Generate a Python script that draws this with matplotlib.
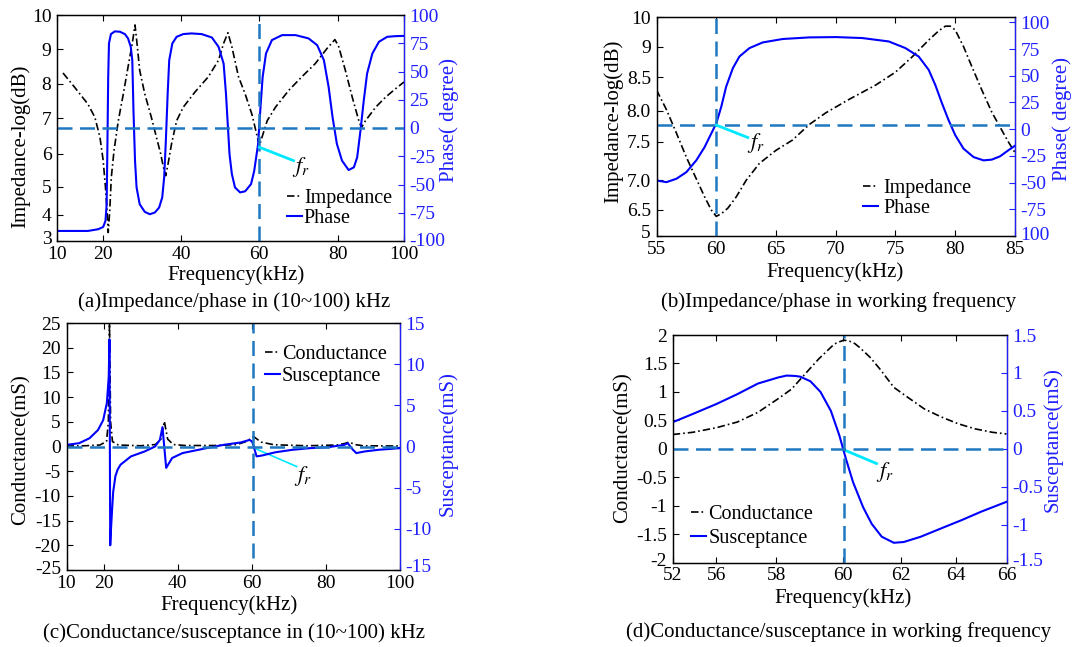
import numpy as np
import matplotlib
matplotlib.use('Agg')
import matplotlib.pyplot as plt
from matplotlib.transforms import ScaledTranslation

plt.rcParams['font.family'] = ['Liberation Serif', 'DejaVu Serif']
plt.rcParams['mathtext.fontset'] = 'stix'
plt.rcParams['axes.unicode_minus'] = False
plt.rcParams['font.size'] = 14

# ---------------- data ----------------
# (a) impedance / phase 10-100 kHz
a_imp_f = [11.3, 13.8, 16.7, 18.2, 19.3, 20.0, 20.6, 21.0, 21.3, 21.7, 22.1, 22.8, 23.9, 25.2, 26.4,
           27.5, 28.2, 28.8, 29.4, 30.7, 32.4, 33.7, 34.8, 35.5, 36.1, 36.7, 37.6, 38.9, 40.6, 43.6,
           47.0, 49.6, 50.9, 52.0, 53.0, 54.7, 56.4, 58.1, 59.4, 60.0, 60.7, 62.0, 64.1, 67.5, 70.8,
           74.2, 77.2, 79.2, 80.2, 82.2, 84.3, 86.3, 87.1, 88.3, 91.4, 94.4, 97.5, 100]
a_imp_db = [8.31, 7.90, 7.41, 7.03, 6.47, 5.80, 4.97, 4.14, 3.32, 4.14, 5.28, 6.09, 6.93, 7.71, 8.48,
            9.17, 9.71, 9.07, 8.39, 7.71, 7.03, 6.47, 6.0, 5.59, 5.33, 5.69, 6.28, 6.93, 7.32, 7.76,
            8.20, 8.68, 9.17, 9.48, 9.07, 8.20, 7.70, 7.12, 6.52, 6.23, 6.47, 6.93, 7.32, 7.81, 8.20,
            8.58, 9.02, 9.28, 9.07, 8.39, 7.61, 6.93, 6.74, 6.93, 7.32, 7.61, 7.86, 8.05]
a_ph_f = [10, 16.7, 18.9, 20.0, 20.6, 20.9, 21.1, 21.3, 21.5, 22.0, 23.0, 24.3, 25.6, 26.4, 27.1,
          27.5, 27.8, 28.2, 28.6, 29.4, 30.7, 32.0, 33.3, 34.4, 35.2, 35.7, 36.1, 36.6, 37.0, 37.8,
          38.9, 40.6, 42.7, 45.3, 47.9, 49.6, 50.9, 51.5, 52.0, 52.4, 53.0, 53.8, 55.1, 56.4, 57.9,
          58.7, 59.7, 60.25, 60.85, 61.7, 63.2, 65.8, 69.2, 72.5, 74.7, 76.4, 77.6, 78.6, 79.7, 81.2,
          83.2, 84.8, 85.8, 86.8, 87.8, 88.8, 90.4, 92.4, 94.9, 97.5, 100]
a_ph_deg = [-91.1, -91.1, -89.6, -87.6, -82.2, -67.4, -14.1, 45.2, 74.8, 83.1, 85.5, 85.2, 83.1, 79.3, 71.9,
            60.0, 15.6, -28.9, -52.6, -67.4, -74.2, -76.3, -74.8, -70.4, -61.5, -43.7, -14.1, 30.4, 60.0, 74.8,
            80.7, 83.1, 83.7, 83.1, 80.1, 71.9, 57.0, 30.4, 0.7, -23.0, -40.7, -52.6, -57.0, -56.0, -49.6,
            -38.0, -14.1, 15.6, 45.2, 65.9, 77.8, 82.2, 82.2, 79.3, 73.3, 60.0, 36.3, 9.6, -14.1, -28.9,
            -37.2, -34.8, -25.9, -2.2, 24.4, 48.1, 65.9, 76.3, 80.7, 81.3, 81.5]

# (b) impedance / phase, working band
b_imp_f = [55, 55.83, 56.67, 57.5, 58.33, 59.03, 59.58, 60.0, 60.42, 60.97, 61.67, 62.5, 63.61, 65.0,
           66.39, 67.78, 69.17, 71.11, 73.33, 75.0, 76.39, 77.78, 78.61, 79.17, 79.58, 80.0, 80.69,
           81.39, 82.22, 83.06, 83.89, 84.44, 85]
b_imp_db = [8.31, 8.02, 7.64, 7.30, 7.02, 6.72, 6.50, 6.13, 6.28, 6.53, 6.72, 7.0, 7.22, 7.39,
            7.53, 7.78, 7.97, 8.17, 8.38, 8.58, 8.83, 9.22, 9.53, 9.69, 9.69, 9.56, 9.0,
            8.67, 8.31, 7.98, 7.69, 7.50, 7.36]
b_ph_f = [55, 55.83, 56.67, 57.5, 58.33, 59.03, 59.58, 60.0, 60.42, 60.83, 61.39, 61.94, 62.78, 63.89,
          65.56, 67.78, 70.0, 72.22, 74.44, 75.83, 76.94, 77.78, 78.33, 78.89, 79.44, 80.0, 80.69,
          81.53, 82.36, 83.06, 83.75, 84.44, 85]
b_ph_deg = [-48.0, -49.6, -46.4, -40.2, -29.2, -16.7, -4.1, 5.3, 21.0, 39.8, 57.1, 68.0, 75.9, 81.2,
            84.4, 85.9, 86.2, 85.3, 82.1, 75.9, 68.0, 55.5, 41.4, 24.2, 8.5, -5.6, -18.2,
            -26.1, -29.2, -28.5, -25.4, -19.8, -15.5]

# (c) conductance / susceptance 10-100 kHz
c_g_f = [10, 15, 19, 20.8, 21.3, 21.6, 21.9, 22.4, 24, 30, 34, 35.5, 36.4, 37.3, 38.8, 42, 50, 56,
         58.5, 60.5, 62.5, 66, 75, 83, 85, 86.3, 87.8, 90, 100]
c_g_ms = [0.1, 0.15, 0.3, 1.0, 5, 25, 5, 1.0, 0.3, 0.15, 0.4, 1.5, 5.1, 1.5, 0.4, 0.2, 0.2, 0.4,
          1.0, 2.0, 0.9, 0.35, 0.15, 0.3, 0.6, 0.9, 0.4, 0.15, 0.1]
c_b_f = [10, 13.4, 16.2, 18.5, 19.9, 20.9, 21.4, 21.6, 21.8, 21.95, 22.3, 22.6, 23.2, 23.8, 24.6,
         27.4, 31.1, 33.9, 35.2, 35.9, 36.9, 38.5, 41.3, 47.8, 52.4, 57.1, 59.4, 60.1, 61.3, 62.7,
         66.4, 71.0, 75.7, 80.3, 85.0, 85.9, 87.3, 88.2, 90.5, 94.2, 100]
c_b_ms = [0.2, 0.4, 1.0, 2.0, 3.2, 5.3, 8.5, 13.0, -12.0, -10.5, -7.7, -5.5, -3.6, -2.8, -2.2,
          -1.2, -0.6, 0.0, 0.8, 2.35, -2.6, -1.4, -0.8, -0.2, 0.2, 0.5, 0.8, 0.6, -1.2, -1.1,
          -0.7, -0.4, -0.2, -0.1, 0.2, 0.4, -0.4, -0.8, -0.6, -0.4, -0.2]

# (d) conductance / susceptance, working band
d_g_f = [52, 53.86, 56.0, 56.7, 57.39, 58.06, 58.46, 58.87, 59.27, 59.57, 59.73, 59.88, 60.03, 60.22,
         60.4, 60.57, 60.93, 61.28, 61.76, 62.24, 62.86, 63.47, 64.09, 64.76, 65.43, 66]
d_g_ms = [0.25, 0.29, 0.37, 0.47, 0.64, 0.88, 1.05, 1.32, 1.58, 1.75, 1.84, 1.88, 1.91, 1.89,
          1.85, 1.78, 1.61, 1.40, 1.08, 0.91, 0.70, 0.56, 0.44, 0.35, 0.29, 0.26]
d_b_f = [52, 53.86, 56.0, 56.7, 57.39, 58.06, 58.31, 58.57, 58.72, 59.02, 59.32, 59.63, 59.88, 60.09,
         60.34, 60.69, 60.99, 61.34, 61.76, 62.11, 62.73, 63.47, 64.24, 65.0, 66]
d_b_ms = [0.35, 0.46, 0.59, 0.72, 0.86, 0.94, 0.965, 0.96, 0.95, 0.89, 0.75, 0.50, 0.18, -0.13,
          -0.44, -0.77, -0.99, -1.16, -1.24, -1.23, -1.16, -1.05, -0.94, -0.83, -0.70]

# tick values / labels
a_xticks = [10, 20, 40, 60, 80, 100]
a_xlabels = ['10', '20', '40', '60', '80', '100']
a_lticks = [3, 4, 5, 6, 7, 8, 9, 10]
a_llabels = ['3', '4', '5', '6', '7', '8', '9', '10']
a_rticks = [-100, -75, -50, -25, 0, 25, 50, 75, 100]
a_rlabels = ['-100', '-75', '-50', '-25', '0', '25', '50', '75', '100']
b_xticks = [55, 60, 65, 70, 75, 80, 85]
b_xlabels = ['55', '60', '65', '70', '75', '80', '85']
b_lticks = [5, 6.5, 7, 7.5, 8, 8.5, 9, 10]
b_llabels = ['5', '6.5', '7.0', '7.5', '8.0', '8.5', '9', '10']
b_rticks = [-100, -75, -50, -25, 0, 25, 50, 75, 100]
b_rlabels = ['100', '-75', '-50', '-25', '0', '25', '50', '75', '100']
c_xticks = [10, 20, 40, 60, 80, 100]
c_xlabels = ['10', '20', '40', '60', '80', '100']
c_lticks = [-25, -20, -15, -10, -5, 0, 5, 10, 15, 20, 25]
c_llabels = ['-25', '-20', '-15', '-10', '-5', '0', '5', '10', '15', '20', '25']
c_rticks = [-15, -10, -5, 0, 5, 10, 15]
c_rlabels = ['-15', '-10', '-5', '0', '5', '10', '15']
d_xticks = [52, 56, 58, 60, 62, 64, 66]
d_xlabels = ['52', '56', '58', '60', '62', '64', '66']
d_lticks = [-2, -1.5, -1, -0.5, 0, 0.5, 1, 1.5, 2]
d_llabels = ['-2', '-1.5', '-1', '-0.5', '0', '0.5', '1', '1.5', '2']
d_rticks = [-1.5, -1, -0.5, 0, 0.5, 1, 1.5]
d_rlabels = ['-1.5', '-1', '-0.5', '0', '0.5', '1', '1.5']

# ---------------- layout helpers ----------------
# relative positions of the (unevenly spaced) ticks along the axes
a_xfrac = [0, 0.133, 0.357, 0.583, 0.810, 1.0]
a_lfrac = [0, 0.117, 0.241, 0.386, 0.543, 0.696, 0.849, 1.0]
b_lfrac = [0, 0.119, 0.254, 0.43, 0.571, 0.726, 0.865, 1.0]
d_xfrac = [0, 0.131, 0.31, 0.511, 0.683, 0.848, 1.0]


def piecewise(vals, fracs):
    v = np.asarray(vals, float)
    f = np.asarray(fracs, float)
    s0 = (f[1] - f[0]) / (v[1] - v[0])
    s1 = (f[-1] - f[-2]) / (v[-1] - v[-2])

    def fwd(x):
        x = np.asarray(x, float)
        y = np.interp(x, v, f)
        y = np.where(x < v[0], f[0] + (x - v[0]) * s0, y)
        y = np.where(x > v[-1], f[-1] + (x - v[-1]) * s1, y)
        return y

    def inv(y):
        y = np.asarray(y, float)
        x = np.interp(y, f, v)
        x = np.where(y < f[0], v[0] + (y - f[0]) / s0, x)
        x = np.where(y > f[-1], v[-1] + (y - f[-1]) / s1, x)
        return x
    return fwd, inv


BLUE = '#0000ff'
RBLUE = '#2020ff'
DASHC = '#1f78c1'
CYAN = '#00e8ff'
DASH = (0, (6, 3))
DASHDOT = (0, (4.5, 1.8, 1, 1.8))
TICKFS = 14
LABFS = 15
LEGFS = 14.5

W, H = 1073, 647
fig = plt.figure(figsize=(W / 100, H / 100), dpi=100)


def box(l, t, r, b):
    return [l / W, 1 - b / H, (r - l) / W, (b - t) / H]


def style(ax, ax2):
    for a in (ax, ax2):
        a.tick_params(direction='in', length=4, width=0.8, labelsize=TICKFS)
        for s in a.spines.values():
            s.set_linewidth(0.9)
    ax.tick_params(axis='x', top=True, pad=3.5)
    ax.tick_params(axis='y', right=False, pad=4)
    ax2.tick_params(axis='y', colors=RBLUE, pad=4)
    ax2.spines['right'].set_color(RBLUE)
    ax.set_zorder(1)
    ax2.set_zorder(2)
    ax2.patch.set_visible(False)


def lift(label, dx=0.0, dy=3.0):
    label.set_transform(label.get_transform() + ScaledTranslation(dx / 100, dy / 100, fig.dpi_scale_trans))


def labels(ax, ax2, xl, yl, yr, xc, ylc, yrc):
    ax.set_xlabel(xl, fontsize=LABFS)
    ax.xaxis.set_label_coords(*xc)
    ax.xaxis.label.set_va('center')
    ax.set_ylabel(yl, fontsize=LABFS)
    ax.yaxis.set_label_coords(*ylc)
    ax.yaxis.label.set_va('center')
    ax2.set_ylabel(yr, fontsize=LABFS, color=RBLUE)
    ax2.yaxis.set_label_coords(*yrc)
    ax2.yaxis.label.set_va('center')
    ax2.yaxis.label.set_rotation(90)


def legend(ax2, handles, names, anchor, spacing, tpad=0.1):
    ax2.legend(handles, names, loc='upper left', bbox_to_anchor=anchor, frameon=False,
               handlelength=0.75, handletextpad=tpad, borderaxespad=0, borderpad=0,
               labelspacing=spacing, fontsize=LEGFS)


# ---------------- (a) ----------------
ax = fig.add_axes(box(57, 15, 404, 241))
ax.set_xscale('function', functions=piecewise(a_xticks, a_xfrac))
ax.set_yscale('function', functions=piecewise(a_lticks, a_lfrac))
ax2 = ax.twinx()
l1, = ax.plot(a_imp_f, a_imp_db, color='k', lw=1.2, ls=DASHDOT)
l2, = ax2.plot(a_ph_f, a_ph_deg, color=BLUE, lw=1.5)
ax2.axhline(0, color=DASHC, lw=1.8, ls=DASH)
ax2.axvline(60, color=DASHC, lw=1.8, ls=DASH)
ax2.plot([60, 68.7], [-17, -28.9], color=CYAN, lw=2)
ax2.text(68.3, -24, r'$f_r$', fontsize=16, va='top', ha='left')
ax.set_xlim(10, 100)
ax.set_ylim(3, 10)
ax2.set_ylim(-100, 100)
ax.set_xticks(a_xticks, a_xlabels)
ax.set_yticks(a_lticks, a_llabels)
ax2.set_yticks(a_rticks, a_rlabels)
style(ax, ax2)
lift(ax.get_yticklabels()[0], dy=4)
lift(ax2.get_yticklabels()[0], dy=2)
labels(ax, ax2, 'Frequency(kHz)', 'Impedance-log(dB)', 'Phase( degree)',
       (0.516, -0.150), (-0.105, 0.417), (1.131, 0.535))
legend(ax2, [l1, l2], ['Impedance', 'Phase'], (0.662, 0.231), 0.07)

# ---------------- (b) ----------------
ax = fig.add_axes(box(656.5, 17, 1015, 236))
ax.set_yscale('function', functions=piecewise(b_lticks, b_lfrac))
ax2 = ax.twinx()
l1, = ax.plot(b_imp_f, b_imp_db, color='k', lw=1.2, ls=DASHDOT)
l2, = ax2.plot(b_ph_f, b_ph_deg, color=BLUE, lw=1.5)
ax2.axhline(3.8, color=DASHC, lw=1.8, ls=DASH)
ax2.axvline(60, color=DASHC, lw=1.8, ls=DASH)
ax2.plot([60, 62.64], [3.8, -7.8], color=CYAN, lw=2)
ax2.text(62.55, -2, r'$f_r$', fontsize=16, va='top', ha='left')
ax.set_xlim(55, 85)
ax.set_ylim(5, 10)
ax2.set_ylim(-100, 105)
ax.set_xticks(b_xticks, b_xlabels)
ax.set_yticks(b_lticks, b_llabels)
ax2.set_yticks(b_rticks, b_rlabels)
style(ax, ax2)
lift(ax.get_yticklabels()[0], dy=5)
lift(ax2.get_yticklabels()[0], dy=2)
labels(ax, ax2, 'Frequency(kHz)', 'Impedance-log(dB)', 'Phase( degree)',
       (0.498, -0.167), (-0.121, 0.522), (1.131, 0.534))
legend(ax2, [l1, l2], ['Impedance', 'Phase'], (0.577, 0.262), 0.07, tpad=0.25)

# ---------------- (c) ----------------
ax = fig.add_axes(box(66.5, 323, 400, 570))
ax2 = ax.twinx()
l1, = ax.plot(c_g_f, c_g_ms, color='k', lw=1.2, ls=DASHDOT)
l2, = ax2.plot(c_b_f, c_b_ms, color=BLUE, lw=1.5)
ax.set_xlim(10, 100)
ax.set_ylim(-25, 25)
ax2.set_ylim(-15, 15)
ax2.axhline(0, color=DASHC, lw=1.8, ls=DASH)
ax2.plot([60.4, 60.4], [-13.6, 15], color=DASHC, lw=1.8, ls=DASH)
ax.plot([61.3, 72.1], [-0.54, -4.05], color=CYAN, lw=1.2)
ax.text(71.5, -3.6, r'$f_r$', fontsize=16, va='top', ha='left')
ax.set_xticks(c_xticks, c_xlabels)
ax.set_yticks(c_lticks, c_llabels)
ax2.set_yticks(c_rticks, c_rlabels)
style(ax, ax2)
lift(ax.get_yticklabels()[0], dy=3)
lift(ax2.get_yticklabels()[0], dy=4)
labels(ax, ax2, 'Frequency(kHz)', 'Conductance(mS)', 'Susceptance(mS)',
       (0.487, -0.142), (-0.137, 0.489), (1.143, 0.513))
legend(ax2, [l1, l2], ['Conductance', 'Susceptance'], (0.594, 0.910), 0.12)

# ---------------- (d) ----------------
ax = fig.add_axes(box(672.7, 335, 1006.5, 562.5))
ax.set_xscale('function', functions=piecewise(d_xticks, d_xfrac))
ax2 = ax.twinx()
l1, = ax.plot(d_g_f, d_g_ms, color='k', lw=1.2, ls=DASHDOT)
l2, = ax2.plot(d_b_f, d_b_ms, color=BLUE, lw=1.5)
ax.set_xlim(52, 66)
ax.set_ylim(-2, 2)
ax2.set_ylim(-1.5, 1.5)
ax2.axhline(0, color=DASHC, lw=1.8, ls=DASH)
ax2.axvline(60.03, color=DASHC, lw=1.8, ls=DASH)
ax.plot([60.03, 61.16], [-0.02, -0.26], color=CYAN, lw=2)
ax.text(61.15, -0.2, r'$f_r$', fontsize=16, va='top', ha='left')
ax.set_xticks(d_xticks, d_xlabels)
ax.set_yticks(d_lticks, d_llabels)
ax2.set_yticks(d_rticks, d_rlabels)
style(ax, ax2)
lift(ax.get_yticklabels()[0], dy=3)
lift(ax2.get_yticklabels()[0], dy=3)
labels(ax, ax2, 'Frequency(kHz)', 'Conductance(mS)', 'Susceptance(mS)',
       (0.509, -0.157), (-0.148, 0.505), (1.140, 0.542))
legend(ax2, [l1, l2], ['Conductance', 'Susceptance'], (0.0557, 0.251), 0.24)

# ---------------- captions ----------------
fig.text(234 / W, 1 - 302 / H, '(a)Impedance/phase in (10~100) kHz', ha='center', va='center', fontsize=LABFS)
fig.text(839 / W, 1 - 302 / H, '(b)Impedance/phase in working frequency', ha='center', va='center', fontsize=LABFS)
fig.text(234 / W, 1 - 633 / H, '(c)Conductance/susceptance in (10~100) kHz', ha='center', va='center', fontsize=LABFS)
fig.text(839 / W, 1 - 632 / H, '(d)Conductance/susceptance in working frequency', ha='center', va='center', fontsize=LABFS)

fig.savefig('out.png', dpi=100)
